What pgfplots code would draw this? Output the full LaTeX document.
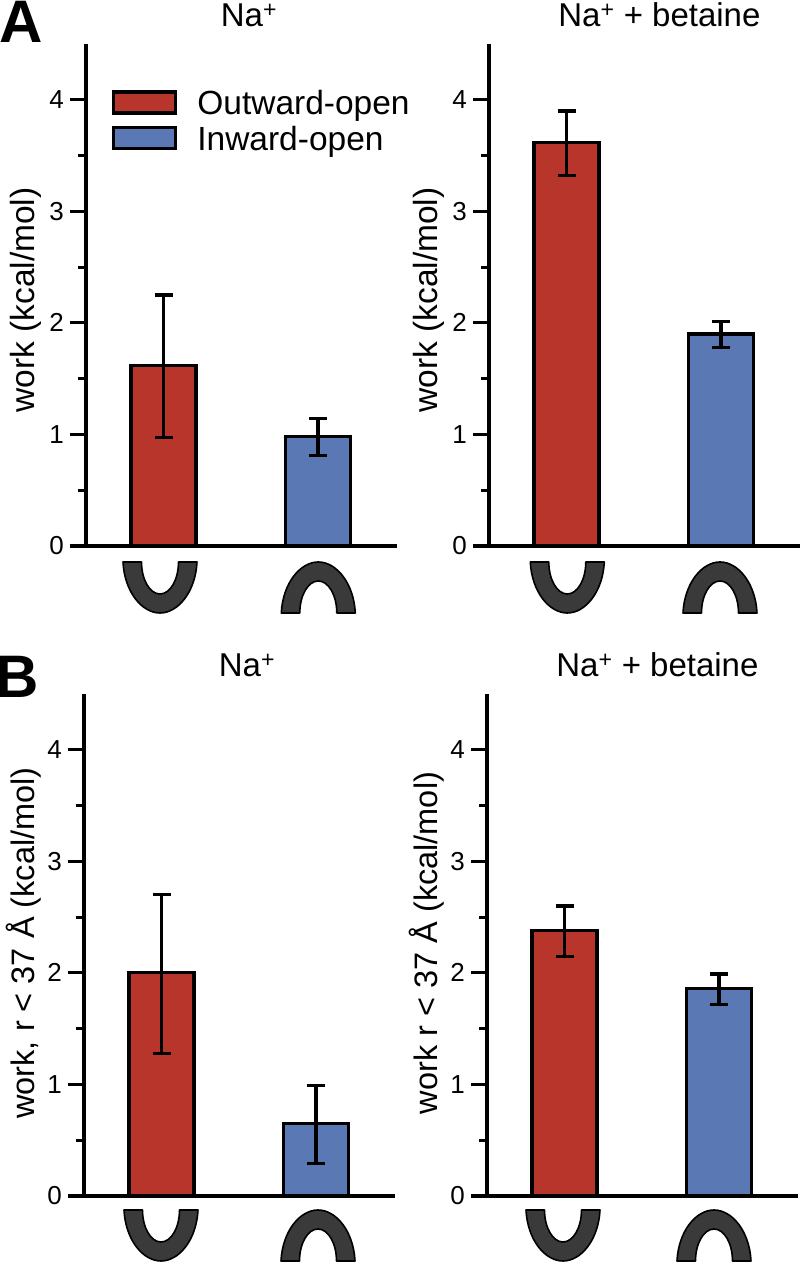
\documentclass[border=0pt]{standalone}
\usepackage{pgfplots}
\pgfplotsset{compat=1.18}
\usepackage{fontspec}
\setmainfont{Liberation Sans}
\definecolor{barred}{HTML}{B8352C}
\definecolor{barblue}{HTML}{5A78B4}
\definecolor{icon}{HTML}{3A3A3A}
\newcommand{\Ufig}[2]{\path[draw=black,line width=1.6pt,line join=round,fill=icon,shift={(#1pt,#2pt)}]
  (-37pt,0pt) .. controls (-35.5pt,-30pt) and (-18pt,-51pt) .. (0pt,-51pt)
  .. controls (18pt,-51pt) and (35.5pt,-30pt) .. (37pt,0pt) -- (18.5pt,0pt)
  arc[start angle=360,end angle=180,x radius=18.5pt,y radius=32pt] -- cycle;}
\newcommand{\Afig}[2]{\path[draw=black,line width=1.6pt,line join=round,fill=icon,shift={(#1pt,#2pt)}]
  (-37pt,-51pt) .. controls (-35.5pt,-21pt) and (-18pt,0pt) .. (0pt,0pt)
  .. controls (18pt,0pt) and (35.5pt,-21pt) .. (37pt,-51pt) -- (18.5pt,-51pt)
  arc[start angle=0,end angle=180,x radius=18.5pt,y radius=32pt] -- cycle;}
\pgfplotsset{
  panel/.style={
    scale only axis, width=311pt, height=502pt,
    xmin=-0.5016, xmax=1.511, ymin=0, ymax=4.5,
    axis x line*=bottom, axis y line*=left,
    axis line style={-,line width=3.2pt},
    clip=false,
    xtick=\empty,
    ytick={0,1,2,3,4}, minor y tick num=1,
    major tick length=16pt, minor tick length=8pt,
    every tick/.style={black,line width=3.2pt},
    tick align=outside,
    /pgf/number format/assume math mode=true,
    tick label style={font=\fontsize{26}{30}\selectfont},
    yticklabel style={inner sep=0pt,xshift=-6pt},
    title style={font=\fontsize{33}{37}\selectfont,anchor=base},
  },
  ylA/.style={every axis y label/.style={font=\fontsize{33.5}{37}\selectfont,at={(axis description cs:-0.195,0.490)},rotate=90,anchor=center}},
  ylB/.style={every axis y label/.style={font=\fontsize{32.5}{36}\selectfont,at={(axis description cs:-0.195,0.504)},rotate=90,anchor=center}},
  ttL/.style={title style={at={(axis description cs:0.524,1.022)}}},
  ttR/.style={title style={at={(axis description cs:0.548,1.022)}}},
  ebars/.style={
    error bars/y dir=both,error bars/y explicit,
    error bars/error bar style={line width=3.2pt,black},
    error bars/error mark options={rotate=90,mark size=9pt,line width=3.2pt,black}},
  rbar/.style={ybar,bar width=65pt,bar shift=0pt,fill=barred,draw=black,line width=3.2pt,ebars},
  bbar/.style={ybar,bar width=65pt,bar shift=0pt,fill=barblue,draw=black,line width=3.2pt,ebars},
}
\begin{document}
\begin{tikzpicture}[x=1pt,y=1pt]
\useasboundingbox (0,0) rectangle (800,1262);
% Panel A left
\begin{axis}[panel,ylA,ttL,at={(86pt,716pt)},anchor=south west,title={Na\textsuperscript{+}},ylabel={work (kcal/mol)},
  legend style={at={(axis description cs:0.084,0.912)},anchor=north west,draw=none,fill=none,inner sep=0pt,outer sep=0pt,
    font=\fontsize{33.5}{36}\selectfont,row sep=6pt},
  legend cell align=left]
\addplot[rbar,legend image code/.code={\draw[fill=barred,draw=black,line width=3.2pt](0pt,-10pt) rectangle (62pt,11pt);\path (80pt,0);}] coordinates {(0,1.62) += (0,0.63) -= (0,0.65)};
\addlegendentry{Outward-open}
\addplot[bbar,legend image code/.code={\draw[fill=barblue,draw=black,line width=3.2pt](0pt,-10pt) rectangle (62pt,11pt);\path (80pt,0);}] coordinates {(1,0.98) += (0,0.16) -= (0,0.17)};
\addlegendentry{Inward-open}
\end{axis}
% Panel A right
\begin{axis}[panel,ylA,ttR,at={(489pt,716pt)},anchor=south west,title={Na\textsuperscript{+} + betaine},ylabel={work (kcal/mol)}]
\addplot[rbar] coordinates {(0,3.62) += (0,0.28) -= (0,0.30)};
\addplot[bbar] coordinates {(1,1.90) += (0,0.11) -= (0,0.12)};
\end{axis}
% Panel B left
\begin{axis}[panel,ylB,ttL,at={(84pt,66pt)},anchor=south west,title={Na\textsuperscript{+}},ylabel={work, r < 37 Å (kcal/mol)}]
\addplot[rbar] coordinates {(0,2.00) += (0,0.70) -= (0,0.72)};
\addplot[bbar] coordinates {(1,0.65) += (0,0.34) -= (0,0.36)};
\end{axis}
% Panel B right
\begin{axis}[panel,ylB,ttR,at={(487pt,66pt)},anchor=south west,title={Na\textsuperscript{+} + betaine},ylabel={work r < 37 Å (kcal/mol)}]
\addplot[rbar] coordinates {(0,2.38) += (0,0.22) -= (0,0.23)};
\addplot[bbar] coordinates {(1,1.86) += (0,0.13) -= (0,0.14)};
\end{axis}
\Ufig{160}{700}\Afig{318.3}{700}
\Ufig{567.3}{700}\Afig{720}{700}
\Ufig{161}{52}\Afig{318}{52}
\Ufig{563}{52}\Afig{714}{52}
\node[font=\fontsize{60}{60}\selectfont\bfseries,anchor=base west,inner sep=0pt] at (-1,1219) {A};
\node[font=\fontsize{60}{60}\selectfont\bfseries,anchor=base west,inner sep=0pt] at (-5,564) {B};
\end{tikzpicture}
\end{document}
